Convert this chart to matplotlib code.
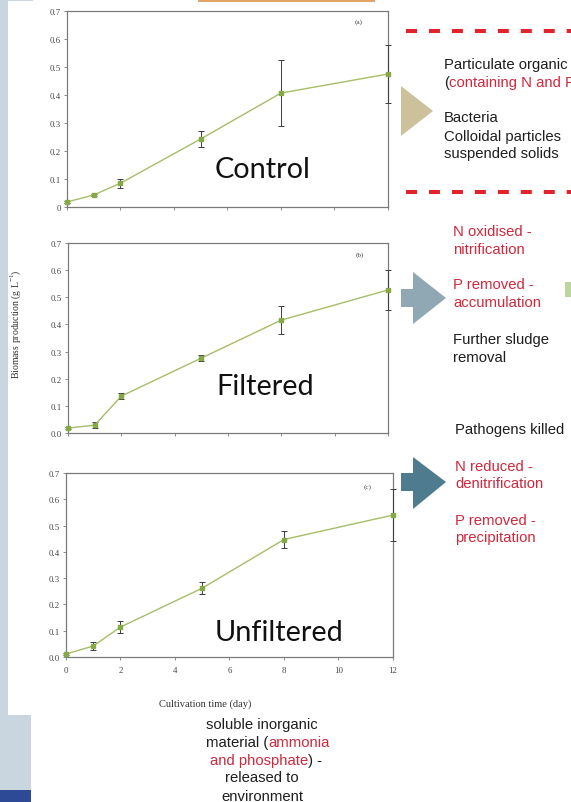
import matplotlib
matplotlib.use("Agg")
import matplotlib.pyplot as plt
from matplotlib.patches import Rectangle, Polygon
from matplotlib.ticker import FuncFormatter

W, H = 571, 803

# Biomass production (g/L) over cultivation time (days)
days = [0, 1, 2, 5, 8, 12]
control = [0.018, 0.043, 0.085, 0.243, 0.407, 0.475]
control_err = [0.004, 0.005, 0.016, 0.027, 0.118, 0.105]
filtered = [0.018, 0.029, 0.136, 0.276, 0.416, 0.527]
filtered_err = [0.005, 0.012, 0.012, 0.010, 0.051, 0.072]
unfiltered = [0.011, 0.042, 0.114, 0.262, 0.447, 0.540]
unfiltered_err = [0.004, 0.015, 0.022, 0.022, 0.032, 0.100]

panel_tags = ["(a)", "(b)", "(c)"]
panel_names = ["Control", "Filtered", "Unfiltered"]
x_ticks = [0, 2, 4, 6, 8, 10, 12]
y_ticks = [0.0, 0.1, 0.2, 0.3, 0.4, 0.5, 0.6, 0.7]

LINE = "#a6bd68"
MARK = "#86a845"
SPINE = "#7a7a7a"
TICKTXT = "#444444"
RED = "#d2283c"
TXT = "#1e1e1e"
SERIF = ["Liberation Serif", "DejaVu Serif"]
SANS = ["Liberation Sans", "DejaVu Sans"]

fig = plt.figure(figsize=(W / 100, H / 100), dpi=100)
fig.patch.set_facecolor("white")


def rect(x0, y0, x1, y1):
    return [x0 / W, 1 - y1 / H, (x1 - x0) / W, (y1 - y0) / H]


# full-figure layer in pixel units for the slide decorations
bg = fig.add_axes([0, 0, 1, 1], zorder=0)
bg.set_xlim(0, W)
bg.set_ylim(H, 0)
bg.axis("off")

bg.add_patch(Rectangle((0, 0), 8, 716, color="#c9d5df", lw=0))
bg.add_patch(Rectangle((0, 0), 33, 2, color="#c9d5df", lw=0))
bg.add_patch(Rectangle((0, 716), 31, 75, color="#c9d5df", lw=0))
bg.add_patch(Rectangle((0, 791), 31, 12, color="#2d4a97", lw=0))
bg.add_patch(Rectangle((198, 0), 177, 2.5, color="#e2a466", lw=0))

# red dashed separators
for yy in (32, 193):
    bg.plot([406, 571], [yy, yy], color="#e2232b", lw=2.9,
            dashes=(2.73, 2.97), solid_capstyle="butt", dash_capstyle="butt")

# arrows
bg.add_patch(Polygon([(401, 87), (433, 112), (401, 137)], closed=True,
                     color="#cdc19c", lw=0))
for (top, mid, bot, col) in [(273, 299, 325, "#8fa8b4"), (458, 483, 510, "#4f7b8f")]:
    bg.add_patch(Polygon([(401, mid - 9), (413, mid - 9), (413, top), (446, mid),
                          (413, bot), (413, mid + 9), (401, mid + 9)],
                         closed=True, color=col, lw=0))
bg.add_patch(Rectangle((565, 283), 6, 15, color="#bcd6a0", lw=0))

fs_side = 10.7


def line_text(x, y, parts):
    """Draw one text line made of (string, colour) parts."""
    t = None
    for i, (s, c) in enumerate(parts):
        if i == 0:
            t = bg.text(x, y, s, color=c, fontsize=fs_side, family=SANS,
                        va="center", ha="left")
        else:
            t = bg.annotate(s, xycoords=t, xy=(1, 0), va="bottom",
                            color=c, fontsize=fs_side, family=SANS)
    return t


line_text(444, 65, [("Particulate organic", TXT)])
line_text(444, 83, [("(", TXT), ("containing N and P", RED)])
line_text(444, 118, [("Bacteria", TXT)])
line_text(444, 137, [("Colloidal particles", TXT)])
line_text(444, 154, [("suspended solids", TXT)])

line_text(453, 232, [("N oxidised -", RED)])
line_text(453, 250, [("nitrification", RED)])
line_text(453, 285, [("P removed -", RED)])
line_text(453, 303, [("accumulation", RED)])
line_text(453, 340, [("Further sludge", TXT)])
line_text(453, 358, [("removal", TXT)])
line_text(455, 430, [("Pathogens killed", TXT)])

line_text(455, 467, [("N reduced -", RED)])
line_text(455, 484, [("denitrification", RED)])
line_text(455, 521, [("P removed -", RED)])
line_text(455, 538, [("precipitation", RED)])

# centred caption below the charts
bg.text(262, 725, "soluble inorganic", color=TXT, fontsize=fs_side,
        family=SANS, ha="center", va="center")
t1 = bg.text(206, 743, "material (", color=TXT, fontsize=fs_side,
             family=SANS, ha="left", va="center")
bg.annotate("ammonia", xycoords=t1, xy=(1, 0), va="bottom", color=RED,
            fontsize=fs_side, family=SANS)
t2 = bg.text(210, 761, "and phosphate", color=RED, fontsize=fs_side,
             family=SANS, ha="left", va="center")
bg.annotate(") -", xycoords=t2, xy=(1, 0), va="bottom", color=TXT,
            fontsize=fs_side, family=SANS)
bg.text(262, 778, "released to", color=TXT, fontsize=fs_side,
        family=SANS, ha="center", va="center")
bg.text(262, 797, "environment", color=TXT, fontsize=fs_side,
        family=SANS, ha="center", va="center")

# axis titles
bg.text(16, 324, "Biomass production (g L$^{\\mathregular{-1}}$)", rotation=90,
        fontsize=7, family=SERIF, color="#333333", ha="center", va="center")
bg.text(205, 704, "Cultivation time (day)", fontsize=7.5, family=SERIF,
        color="#333333", ha="center", va="center")

panels = [
    ((67, 12, 388, 208), control, control_err, (359, 22), (215, 170)),
    ((68, 244, 388, 434), filtered, filtered_err, (360, 255), (216, 387)),
    ((66, 474, 393, 658), unfiltered, unfiltered_err, (368, 487), (215, 633)),
]

for i, (box, vals, errs, tagpos, namepos) in enumerate(panels):
    ax = fig.add_axes(rect(*box), zorder=2)
    ax.patch.set_alpha(0)
    ax.errorbar(days, vals, yerr=errs, color=LINE, lw=1.0, marker="s",
                ms=3.4, mfc=MARK, mec=MARK, ecolor="#3c3c3c", elinewidth=0.7,
                capsize=2.3, capthick=0.7, clip_on=False, zorder=3)
    ax.set_xlim(0, 12)
    ax.set_ylim(0, 0.7)
    ax.set_xticks(x_ticks)
    ax.set_yticks(y_ticks)
    for sp in ax.spines.values():
        sp.set_color(SPINE)
        sp.set_linewidth(0.9)
    ax.tick_params(direction="out", length=2.5, width=0.6, color=SPINE,
                   labelsize=6.3, labelcolor=TICKTXT, pad=2)
    for lab in ax.get_xticklabels() + ax.get_yticklabels():
        lab.set_family(SERIF)
    if i == 0:
        ax.yaxis.set_major_formatter(
            FuncFormatter(lambda v, p: "0" if abs(v) < 1e-9 else f"{v:.1f}"))
    else:
        ax.yaxis.set_major_formatter(FuncFormatter(lambda v, p: f"{v:.1f}"))
    if i < 2:
        ax.tick_params(axis="x", labelbottom=False)
    else:
        ax.tick_params(axis="x", pad=4)
    ax.text(tagpos[0], tagpos[1], panel_tags[i], transform=bg.transData,
            fontsize=5.2, family=SERIF, color="#444444", ha="center", va="center")
    ax.text(namepos[0], namepos[1], panel_names[i], transform=bg.transData,
            fontsize=20.8, family=["Lato", "DejaVu Sans"], color="#111111",
            ha="left", va="center")

fig.savefig("out.png", dpi=100, facecolor="white")
